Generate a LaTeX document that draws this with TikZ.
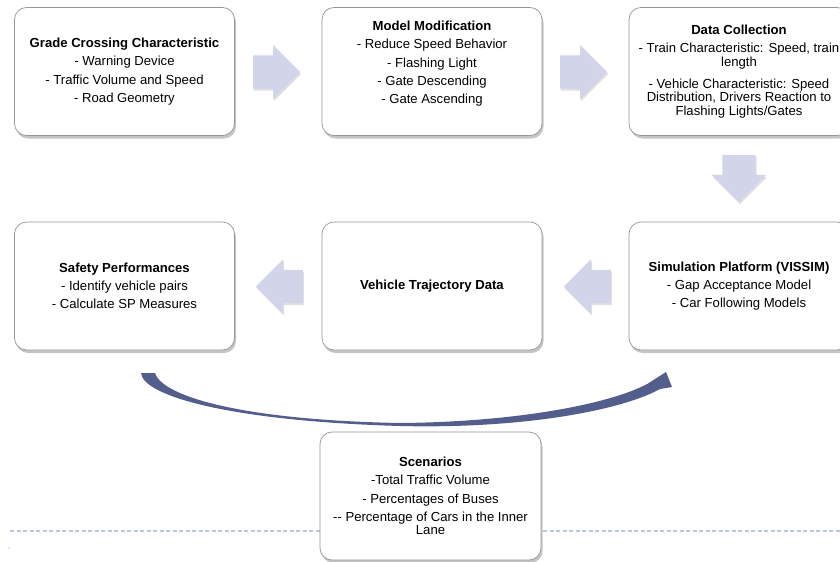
\documentclass[tikz,border=0pt]{standalone}
\usepackage{fontspec}
\setmainfont{Liberation Sans}
\usetikzlibrary{shapes.arrows,shadows}
\newcommand{\pw}{0.03cm}
\newcommand{\nl}{\\[4.2pt]}
\definecolor{boxgray}{RGB}{150,150,150}
\definecolor{arrowfill}{RGB}{210,213,233}
\definecolor{arcblue}{RGB}{84,94,140}
\definecolor{dashblue}{RGB}{185,200,222}

\begin{document}
\begin{tikzpicture}[x=\pw, y=-\pw,
  box/.style={draw=boxgray, line width=0.6pt, fill=white, rounded corners=12*\pw, minimum width=220*\pw, minimum height=128*\pw, align=center, inner sep=0pt, font=\fontsize{11.2}{11.4}\selectfont, drop shadow={shadow xshift=1.5*\pw, shadow yshift=-3*\pw, fill=black!50, opacity=0.45}},
  flow/.style={single arrow, draw=none, fill=arrowfill, anchor=tail, minimum height=47*\pw, inner xsep=0pt, inner ysep=16.5*\pw, single arrow head extend=10.5*\pw, drop shadow={shadow xshift=1*\pw, shadow yshift=-2*\pw, fill=black!30, opacity=0.4}},
  dashline/.style={draw=dashblue, line width=1.2*\pw, dash pattern=on 4*\pw off 2.5*\pw}
]
    \useasboundingbox[fill=white] (0,0) rectangle (840,562);

    % dotted rule behind the scenario box
    \draw[dashline] (10,531) -- (840,531);
    \fill[boxgray] (9,548) circle (0.7*\pw);

    % First row
    \node[box] (crossing) at (124.5,71.5) {\textbf{Grade Crossing Characteristic}\nl - Warning Device\nl - Traffic Volume and Speed\nl - Road Geometry};
    \node[box] (modify) at (432,71.5) {\textbf{Model Modification}\nl - Reduce Speed Behavior\nl - Flashing Light\nl - Gate Descending\nl - Gate Ascending\nl\mbox{}};
    \node[box] (collect) at (739,71.5) {\textbf{Data Collection}\nl - Train Characteristic: Speed, train\\ length\\[7.5pt] - Vehicle Characteristic: Speed\\ Distribution, Drivers Reaction to\\ Flashing Lights/Gates};

    % Second row
    \node[box] (safety) at (124.5,286) {\textbf{Safety Performances}\nl - Identify vehicle pairs\nl - Calculate SP Measures};
    \node[box] (traject) at (432,286) {\textbf{Vehicle Trajectory Data}};
    \node[box] (simul) at (739,286) {\textbf{Simulation Platform (VISSIM)}\nl - Gap Acceptance Model\nl - Car Following Models};

    % block arrows between the boxes
    \node[flow] (f1) at (253,72) {};
    \node[flow] (f2) at (560,72) {};
    \node[flow, rotate=-90] (f3) at (739,155) {};
    \node[flow, rotate=180] (f4) at (611,286.5) {};
    \node[flow, rotate=180] (f5) at (303,286.5) {};

    % curved arrow
    \coordinate (arcin) at (141,373);
    \coordinate (arcinr) at (155,373);
    \coordinate (arctip) at (666,372);
    \fill[arcblue] (arcin) .. controls (143,396) and (230,421) .. (400,426)
        .. controls (520,429) and (620,411) .. (660,389)
        -- (672,387) -- (arctip) -- (641,388) -- (647,384)
        .. controls (612,403) and (520,422) .. (400,423)
        .. controls (240,420) and (162,396) .. (arcinr) -- cycle;

    \node[box, minimum width=221*\pw] (scen) at (430.5,496) {\textbf{Scenarios}\nl -Total Traffic Volume\nl - Percentages of Buses\nl -{}- Percentage of Cars in the Inner\\ Lane};

\end{tikzpicture}
\end{document}
